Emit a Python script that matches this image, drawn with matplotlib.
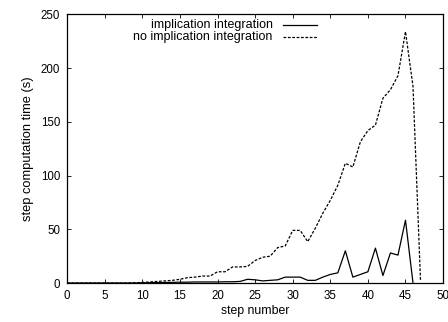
import numpy as np
import matplotlib
matplotlib.use("Agg")
import matplotlib.pyplot as plt

plt.rcParams['font.family'] = ['Liberation Sans', 'DejaVu Sans']

# data
steps = list(range(0, 48))
no_impl = [0, 0, 0, 0, 0, 0, 0, 0, 0, 0.3,
           0.5, 1, 1.5, 2, 2.5, 3.5, 5, 5.5, 6.5, 6.5,
           10.5, 10.5, 15, 15, 15.5, 21, 24, 25, 33, 34.5,
           49, 49, 38.5, 51, 65, 77, 91, 111.5, 108, 131.5,
           142, 147, 172, 180, 193, 234, 183, 2]
impl = [0, 0, 0, 0, 0, 0, 0, 0, 0, 0,
        0.2, 0.3, 0.4, 0.5, 0.6, 0.8, 0.8, 1, 1, 1,
        1, 1.2, 1.2, 1.5, 3.5, 3, 2, 2.5, 3, 5.5,
        5.5, 5.5, 2.5, 2.5, 5.5, 8, 9.5, 30, 5.5, 8,
        10.5, 32.5, 7, 28, 26, 58.5, 0]
impl_steps = steps[:len(impl)]

labels = ["implication integration", "no implication integration"]
xticks = list(range(0, 51, 5))
yticks = list(range(0, 251, 50))

fig = plt.figure(figsize=(4.48, 3.22), dpi=100)
ax = fig.add_axes([0.15, 0.121, 0.839, 0.834])

ax.plot(impl_steps, impl, color="black", lw=0.9)
ax.plot(steps, no_impl, color="black", lw=0.9, linestyle=(0, (2.2, 1.3)))

ax.set_xlim(0, 50)
ax.set_ylim(0, 250)
ax.set_xticks(xticks)
ax.set_yticks(yticks)
ax.tick_params(direction="in", top=True, right=True, labelsize=8.3, length=3, width=0.6, pad=5)
for s in ax.spines.values():
    s.set_linewidth(0.9)

ax.set_xlabel("step number", fontsize=8.8, labelpad=2.5)
ax.set_ylabel("step computation time (s)", fontsize=9.3, labelpad=5)

# gnuplot style key: right aligned text followed by line sample
ax.text(0.547, 0.961, labels[0], transform=ax.transAxes, ha="right", va="center", fontsize=9)
ax.text(0.547, 0.916, labels[1], transform=ax.transAxes, ha="right", va="center", fontsize=9)
ax.plot([0.573, 0.664], [0.961, 0.961], transform=ax.transAxes, color="black", lw=0.9)
ax.plot([0.573, 0.664], [0.916, 0.916], transform=ax.transAxes, color="black", lw=0.9,
        linestyle=(0, (2.2, 1.3)))

plt.savefig("out.png", dpi=100)
